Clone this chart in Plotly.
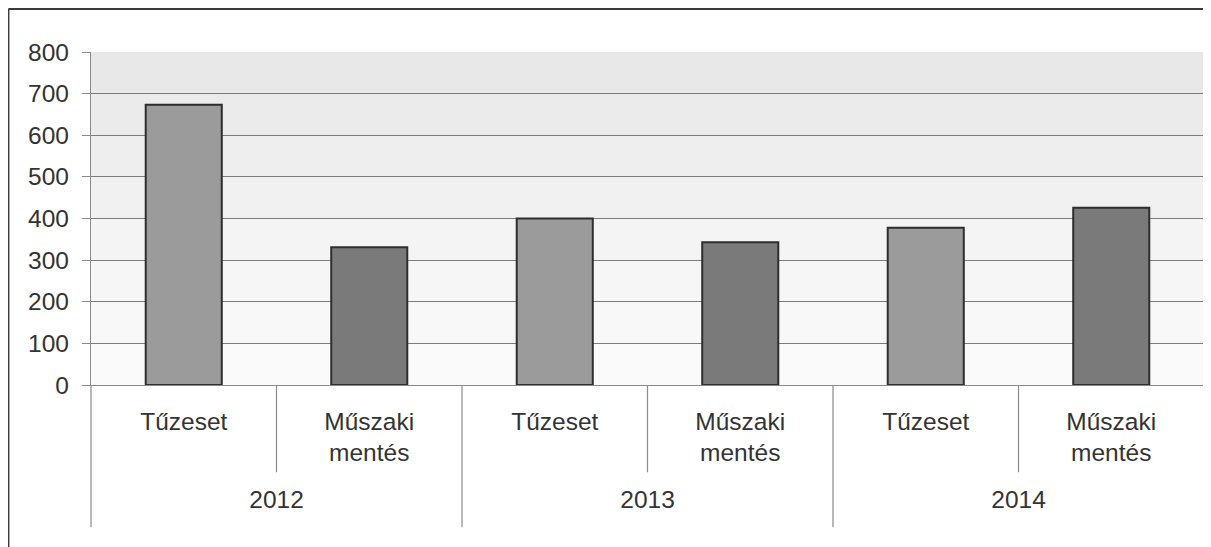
import plotly.graph_objs as go

# data
years = ["<br>2012", "<br>2012", "<br>2013", "<br>2013", "<br>2014", "<br>2014"]
types = ["Tűzeset", "Műszaki<br>mentés", "Tűzeset", "Műszaki<br>mentés", "Tűzeset", "Műszaki<br>mentés"]
values = [673, 331, 400, 343, 378, 426]
y_ticks = [0, 100, 200, 300, 400, 500, 600, 700, 800]

type_colors = {"Tűzeset": "#9b9b9b", "Műszaki<br>mentés": "#7a7a7a"}
bar_colors = [type_colors[t] for t in types]

font = dict(family="Liberation Sans, Arial, sans-serif", size=24.5, color="#333333")

trace = go.Bar(
    x=[years, types], y=values,
    marker=dict(color=bar_colors, line=dict(color="#2e2e2e", width=2)),
    width=0.41,
)

fig = go.Figure(data=[trace])

# greyish gradient of the plot area, drawn as bands (top darker)
band_colors = ["#fafafa", "#f8f8f8", "#f6f6f6", "#f4f4f4", "#f1f1f1", "#eeeeee", "#ebebeb", "#e8e8e8"]
shapes = []
for i, c in enumerate(band_colors):
    shapes.append(dict(type="rect", xref="paper", yref="paper", x0=0, x1=1,
                       y0=i / 8, y1=(i + 1) / 8, fillcolor=c, line=dict(width=0),
                       layer="below"))

# short dividers between the inner categories
for xp in [1 / 6, 3 / 6, 5 / 6]:
    shapes.append(dict(type="line", xref="paper", yref="paper", x0=xp, x1=xp,
                       y0=0, y1=-0.262, line=dict(color="#8a8a8a", width=1.2)))

# longer dividers between the years
for xp in [0, 1 / 3, 2 / 3, 1]:
    shapes.append(dict(type="line", xref="paper", yref="paper", x0=xp, x1=xp,
                       y0=0, y1=-0.427, line=dict(color="#8a8a8a", width=1.2)))

# outer frame of the chart (left and top edges)
shapes.append(dict(type="line", xref="paper", yref="paper", x0=-0.0742, x1=-0.0742,
                   y0=1.129, y1=-0.6, line=dict(color="#3a3a3a", width=2)))
shapes.append(dict(type="line", xref="paper", yref="paper", x0=-0.0742, x1=1.02,
                   y0=1.129, y1=1.129, line=dict(color="#3a3a3a", width=2)))

# page body has an 8px margin, so the margins are shifted by that
fig.update_layout(
    width=1211, height=547,
    margin=dict(l=83, r=15, t=44, b=170),
    paper_bgcolor="white",
    plot_bgcolor="#f5f5f5",
    font=font,
    showlegend=False,
    shapes=shapes,
    xaxis=dict(
        type="multicategory",
        showline=True, linecolor="#8a8a8a", linewidth=1.2,
        showdividers=False,
        ticks="", ticklabelstandoff=14,
        tickfont=font,
        showgrid=False,
    ),
    yaxis=dict(
        range=[0, 800], tickvals=y_ticks,
        showgrid=True, gridcolor="#7c7c7c", gridwidth=1.4,
        showline=True, linecolor="#8a8a8a", linewidth=1.2, mirror=True,
        ticks="outside", ticklen=8, tickcolor="#8a8a8a",
        ticklabelstandoff=8,
        tickfont=font,
        zeroline=False,
    ),
)

fig.write_html("out.html")
